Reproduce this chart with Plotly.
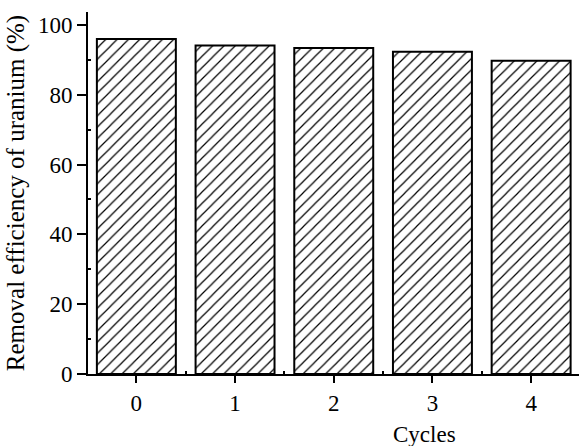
import plotly.graph_objects as go

cycles = [0, 1, 2, 3, 4]
removal = [96.0, 94.1, 93.4, 92.3, 89.7]
y_ticks = [0, 20, 40, 60, 80, 100]

FONT = "Liberation Serif"
tf = dict(family=FONT, size=23, color="black")
titlef = dict(family=FONT, size=25, color="black")

fig = go.Figure()
fig.add_trace(go.Bar(
    x=cycles, y=removal, width=0.8,
    marker=dict(
        color="white",
        line=dict(color="black", width=2),
        pattern=dict(shape="/", size=8, solidity=0.15, fgcolor="black", fgopacity=1, bgcolor="white"),
    ),
))

fig.update_layout(
    width=579, height=446,
    margin=dict(l=88, r=0, t=12, b=72),
    plot_bgcolor="white", paper_bgcolor="white",
    showlegend=False,
    font=tf,
    xaxis=dict(
        range=[-0.49, 4.485], tickmode="array", tickvals=cycles,
        ticktext=[str(c) for c in cycles], tickfont=tf,
        showline=True, linecolor="black", linewidth=2,
        ticks="outside", ticklen=7, tickwidth=2, tickcolor="black",
        minor=dict(tick0=0.5, dtick=1, ticks="inside", ticklen=3, tickwidth=2, tickcolor="black"),
        showgrid=False, zeroline=False,
    ),
    yaxis=dict(
        range=[0, 103.7], tickmode="array", tickvals=y_ticks, tickfont=tf,
        showline=True, linecolor="black", linewidth=2,
        ticks="outside", ticklen=9, tickwidth=2, tickcolor="black",
        minor=dict(tick0=10, dtick=20, ticks="inside", ticklen=3, tickwidth=2, tickcolor="black"),
        showgrid=False, zeroline=False,
        title=dict(text="Removal efficiency of uranium (%)", standoff=6, font=titlef),
    ),
    annotations=[dict(
        text="Cycles", xref="paper", yref="paper", x=0.686, y=-0.168,
        xanchor="center", yanchor="middle", showarrow=False,
        font=tf,
    )],
)

fig.write_html("out.html")
